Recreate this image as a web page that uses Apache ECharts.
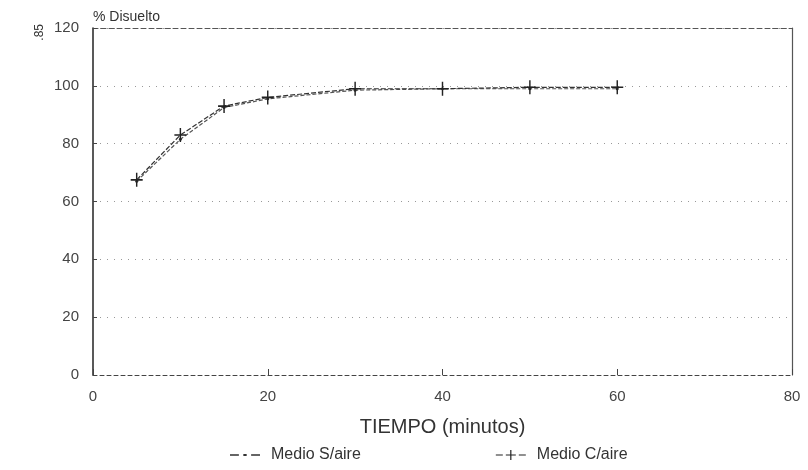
<!DOCTYPE html>
<html>
<head>
<meta charset="utf-8">
<script src="https://cdn.jsdelivr.net/npm/echarts@6/dist/echarts.min.js"></script>
<style>html,body{margin:0;padding:0;background:#fff}#c{width:808px;height:470px}</style>
</head>
<body>
<div id="c"></div>
<script>
var xTicks = [0, 20, 40, 60, 80];
var yTicks = [0, 20, 40, 60, 80, 100, 120];
var tiempo = [5, 10, 15, 20, 30, 40, 50, 60];
var medioSAire = [67, 81.5, 92.5, 95.5, 98.5, 99, 99, 99];
var medioCAire = [67.5, 83, 93, 96, 99, 99, 99.5, 99.5];
var seriesNames = ['Medio S/aire', 'Medio C/aire'];

var font = 'Liberation Sans, Arial, sans-serif';
var plus = 'path://M4.4,0H5.6V4.4H10V5.6H5.6V10H4.4V5.6H0V4.4H4.4Z';
var iconS = 'path://M0,4.4H8V5.6H0Z M12,4H15V6H12Z M19,4.4H27V5.6H19Z';
var iconC = 'path://M0,4.4H7V5.6H0Z M10,4.4H20V5.6H10Z M14.4,0H15.6V10H14.4Z M23,4.4H30V5.6H23Z';

var chart = echarts.init(document.getElementById('c'));
chart.setOption({
  animation: false,
  backgroundColor: '#fff',
  grid: { left: 93, right: 16, top: 28, bottom: 95 },
  xAxis: [{
    type: 'value', min: 0, max: 80, interval: 20,
    name: 'TIEMPO (minutos)', nameLocation: 'middle', nameGap: 42,
    nameTextStyle: { fontFamily: font, fontSize: 20, color: '#333' },
    axisLine: { show: true, onZero: false, lineStyle: { color: '#444', type: [4, 3], width: 1 } },
    axisTick: { show: true, inside: true, length: 6, lineStyle: { color: '#444' } },
    axisLabel: { fontFamily: font, fontSize: 15, color: '#444', margin: 14 },
    splitLine: { show: false }
  }, {
    type: 'value', min: 0, max: 80, interval: 20, position: 'top',
    axisLine: { show: true, onZero: false, lineStyle: { color: '#555', type: [5, 3], width: 1 } },
    axisTick: { show: false }, axisLabel: { show: false }, splitLine: { show: false }
  }],
  yAxis: [{
    type: 'value', min: 0, max: 120, interval: 20,
    name: '% Disuelto', nameLocation: 'end', nameGap: 4,
    nameTextStyle: { fontFamily: font, fontSize: 14, color: '#333', align: 'left' },
    axisLine: { show: true, onZero: false, lineStyle: { color: '#222', width: 1.5 } },
    axisTick: { show: true, inside: true, length: 4, lineStyle: { color: '#444' } },
    axisLabel: { fontFamily: font, fontSize: 15, color: '#444', margin: 14 },
    splitLine: { show: true, lineStyle: { color: '#999', type: [1, 6], width: 1 } }
  }, {
    type: 'value', min: 0, max: 120, interval: 20, position: 'right',
    axisLine: { show: true, onZero: false, lineStyle: { color: '#555', width: 1.2 } },
    axisTick: { show: false }, axisLabel: { show: false }, splitLine: { show: false }
  }],
  legend: {
    bottom: 2, left: 225, itemGap: 135, itemWidth: 30, itemHeight: 10,
    textStyle: { fontFamily: font, fontSize: 16, color: '#333', padding: [0, 0, 0, 6] },
    data: [{ name: seriesNames[0], icon: iconS }, { name: seriesNames[1], icon: iconC }]
  },
  graphic: [{
    type: 'text', left: 34, top: 24, rotation: Math.PI / 2,
    style: { text: '.85', fontFamily: font, fontSize: 12, fill: '#333' }
  }],
  series: [{
    name: seriesNames[0], type: 'line',
    data: tiempo.map(function (t, i) { return [t, medioSAire[i]]; }),
    symbol: 'circle', symbolSize: 3,
    itemStyle: { color: '#333' },
    lineStyle: { color: '#555', width: 1.2, type: [4, 2] }
  }, {
    name: seriesNames[1], type: 'line',
    data: tiempo.map(function (t, i) { return [t, medioCAire[i]]; }),
    symbol: plus, symbolSize: [12, 14],
    itemStyle: { color: '#222' },
    lineStyle: { color: '#333', width: 1.2, type: [5, 2] }
  }]
});
</script>
</body>
</html>
